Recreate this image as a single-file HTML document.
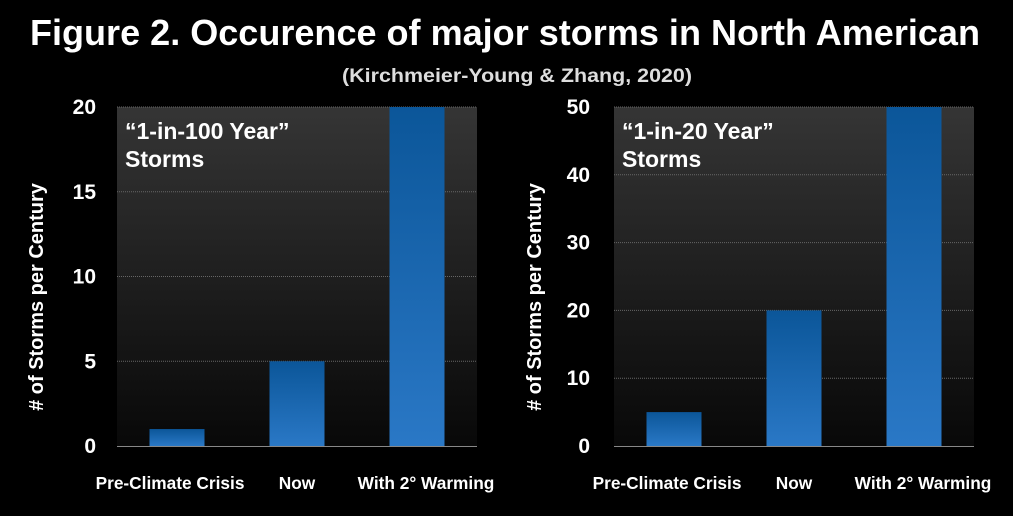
<!DOCTYPE html>
<html><head><meta charset="utf-8"><style>
html,body{margin:0;padding:0;background:#000;}
svg{display:block;font-family:"Liberation Sans",sans-serif;font-weight:bold;}
</style></head><body>
<svg id="c" width="1013" height="516" viewBox="0 0 1013 516">
<defs>
<linearGradient id="bg" x1="0" y1="0" x2="0" y2="1"><stop offset="0" stop-color="#353535"/><stop offset="1" stop-color="#080808"/></linearGradient>
<linearGradient id="bar" x1="0" y1="0" x2="0" y2="1"><stop offset="0" stop-color="#0b5699"/><stop offset="1" stop-color="#2a78c6"/></linearGradient>
</defs>
<text x="505" y="45" text-anchor="middle" font-size="36" fill="#fff" textLength="950" lengthAdjust="spacingAndGlyphs">Figure 2. Occurence of major storms in North American</text>
<text x="517" y="82" text-anchor="middle" font-size="19" fill="#ddd" textLength="350" lengthAdjust="spacingAndGlyphs">(Kirchmeier-Young &amp; Zhang, 2020)</text>
</svg>
<script>
const categories = ["Pre-Climate Crisis","Now","With 2° Warming"];
const leftValues = [1,5,20];
const rightValues = [5,20,50];
const leftTicks = [0,5,10,15,20];
const rightTicks = [0,10,20,30,40,50];
const leftMax = 20, rightMax = 50;
const panels = [
 {name:"left", x0:117, x1:477, vals:leftValues, ticks:leftTicks, max:leftMax, label:["“1-in-100 Year”","Storms"], tickX:96, titleX:43},
 {name:"right", x0:614, x1:974, vals:rightValues, ticks:rightTicks, max:rightMax, label:["“1-in-20 Year”","Storms"], tickX:590, titleX:541}
];
const labelShift=[-7,0,9];
const svg = document.getElementById('c');
const NS = "http://www.w3.org/2000/svg";
function mk(tag, attrs, parent){const e=document.createElementNS(NS,tag);for(const k in attrs)e.setAttribute(k,attrs[k]);(parent||svg).appendChild(e);return e;}
const yTop=107, yBot=446;
panels.forEach(p=>{
  const g=mk('g',{});
  
  
  const y=v=>yBot-(v/p.max)*(yBot-yTop);
  const bw=(p.x1-p.x0)/categories.length;
  const bg=mk('rect',{x:p.x0,y:yTop,width:p.x1-p.x0,height:yBot-yTop,fill:'url(#bg)'},g);
  
  
  p.ticks.forEach(t=>{
    if(t>0){const l=mk('line',{x1:p.x0,x2:p.x1,y1:y(t),y2:y(t),stroke:'#666','stroke-width':1,'stroke-dasharray':'1 1'},g);
      
      }
    const tx=mk('text',{x:p.tickX,y:y(t)+7,'text-anchor':'end','font-size':21,fill:'#fff'},g);
    tx.textContent=t;
    
    
  });
  const ax=mk('line',{x1:p.x0,x2:p.x1,y1:yBot+0.5,y2:yBot+0.5,stroke:'#888','stroke-width':1},g);
  
  
  p.vals.forEach((v,i)=>{
    const cx=p.x0+bw*(i+0.5);
    const r=mk('rect',{x:cx-27.5,y:y(v),width:55,height:yBot-y(v),fill:'url(#bar)'},g);
    
    
    const t=mk('text',{x:cx+labelShift[i],y:489,'text-anchor':'middle','font-size':17.3,fill:'#fff'},g);
    t.textContent=categories[i];
    
    
  });
  p.label.forEach((s,i)=>{
    const t=mk('text',{x:p.x0+8,y:139+i*28,'font-size':23,fill:'#fff'},g);
    t.textContent=s;
    
    
  });
  const yt=mk('text',{x:0,y:0,'text-anchor':'middle','font-size':20,fill:'#fff',transform:`translate(${p.titleX},297) rotate(-90)`},g);
  yt.textContent='# of Storms per Century';
  
  
});
</script>
</body></html>
